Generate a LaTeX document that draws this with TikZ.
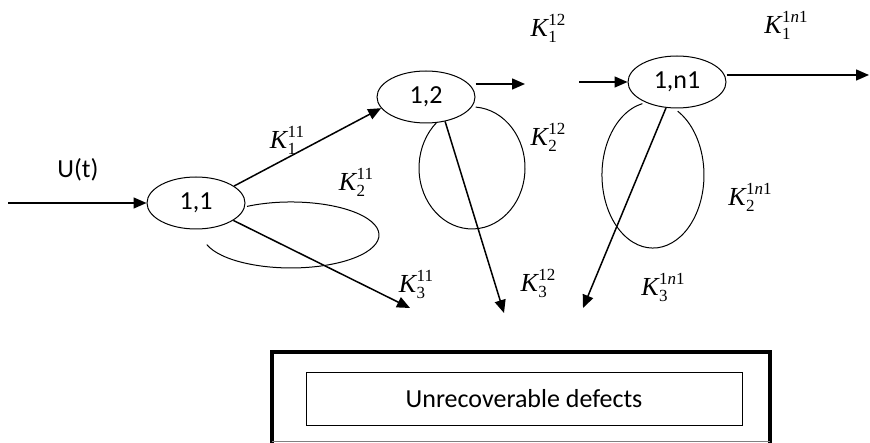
\documentclass[tikz,border=0pt]{standalone}
\usepackage{amsmath}
\usepackage{fontspec}
\setmainfont{Carlito}
\newfontfamily\kfont{Liberation Serif}
\newcommand{\kscript}[1]{\hbox{\kfont\fontsize{17}{17}\selectfont #1}}
\newcommand{\klab}[2]{{\kfont\itshape K}\kern0.5pt\ooalign{\raisebox{-6pt}{\kscript{#1}}\cr\raisebox{11pt}{\kscript{#2}}\cr}}
\usepackage{tikz}
\usetikzlibrary{shapes.geometric, arrows.meta, positioning, calc, backgrounds}

\begin{document}
\begin{tikzpicture}[
    x=1pt, y=1pt,
    state/.style={ellipse, draw, line width=1pt, fill=white, minimum width=98pt, minimum height=52pt, inner sep=0pt, font=\fontsize{26}{30}\selectfont},
    arrow/.style={-{Triangle[length=13pt, width=11pt]}, line width=1.5pt},
    loop/.style={draw, line width=1pt},
    klabel/.style={font=\fontsize{26}{30}\selectfont, inner sep=0pt}
]
\useasboundingbox (0,0) rectangle (870,-443);

% states
\node[state] (n11) at (196,-203) {1,1};
\node[state] (n12) at (426,-97) {1,2};
\node[state] (nn1) at (677,-82) {1,n1};

% free ends
\coordinate (in) at (8,-203);
\coordinate (d11) at (410,-308);
\coordinate (d12) at (504,-313);
\coordinate (dnn) at (583,-308);
\coordinate (gapL) at (525,-84);
\coordinate (gapR) at (579,-82);
\coordinate (out) at (869,-75);

% self loops
\draw[loop] (247,-206.4) arc[start angle=120, end angle=-163, x radius=88, y radius=33];
\draw[loop] (475.7,-107.1) arc[start angle=86, end angle=-228, x radius=53, y radius=61];
\draw[loop] (677.7,-111.2) arc[start angle=61, end angle=-258, x radius=51, y radius=73];

% transitions
\draw[arrow] (in) -- (n11);
\draw[arrow] (n11.24) -- (n12.194);
\draw[arrow] (n11.-25) -- (d11);
\draw[arrow] (n12.east |- gapL) -- (gapL);
\draw[arrow] (n12.-52) -- (d12);
\draw[arrow] (gapR) -- (nn1);
\draw[arrow] (nn1.east |- out) -- (out);
\draw[arrow] (nn1.-113) -- (dnn);

% labels
\node[font=\fontsize{26}{30}\selectfont] (ut) at (78,-170) {U(t)};
\node[klabel] (k111) at (287,-140) {\klab{1}{11}};
\node[klabel] (k211) at (356,-182) {\klab{2}{11}};
\node[klabel] (k311) at (416,-284) {\klab{3}{11}};
\node[klabel] (k112) at (548,-28) {\klab{1}{12}};
\node[klabel] (k212) at (548,-137) {\klab{2}{12}};
\node[klabel] (k312) at (538,-283) {\klab{3}{12}};
\node[klabel] (k1nn) at (786,-25) {\klab{1}{1\textit{n}1}};
\node[klabel] (k2nn) at (750,-197) {\klab{2}{1\textit{n}1}};
\node[klabel] (k3nn) at (663,-287) {\klab{3}{1\textit{n}1}};

% absorbing state
\node[draw, line width=0.8pt, minimum width=436pt, minimum height=53pt, font=\fontsize{26}{30}\selectfont] (defects) at (524,-398.5) {Unrecoverable defects};
\draw[line width=3.5pt] (272,-443) |- (770,-352) -- (770,-443);
\draw[line width=0.6pt, gray] (272,-441.5) -- (770,-441.5);

\end{tikzpicture}
\end{document}
